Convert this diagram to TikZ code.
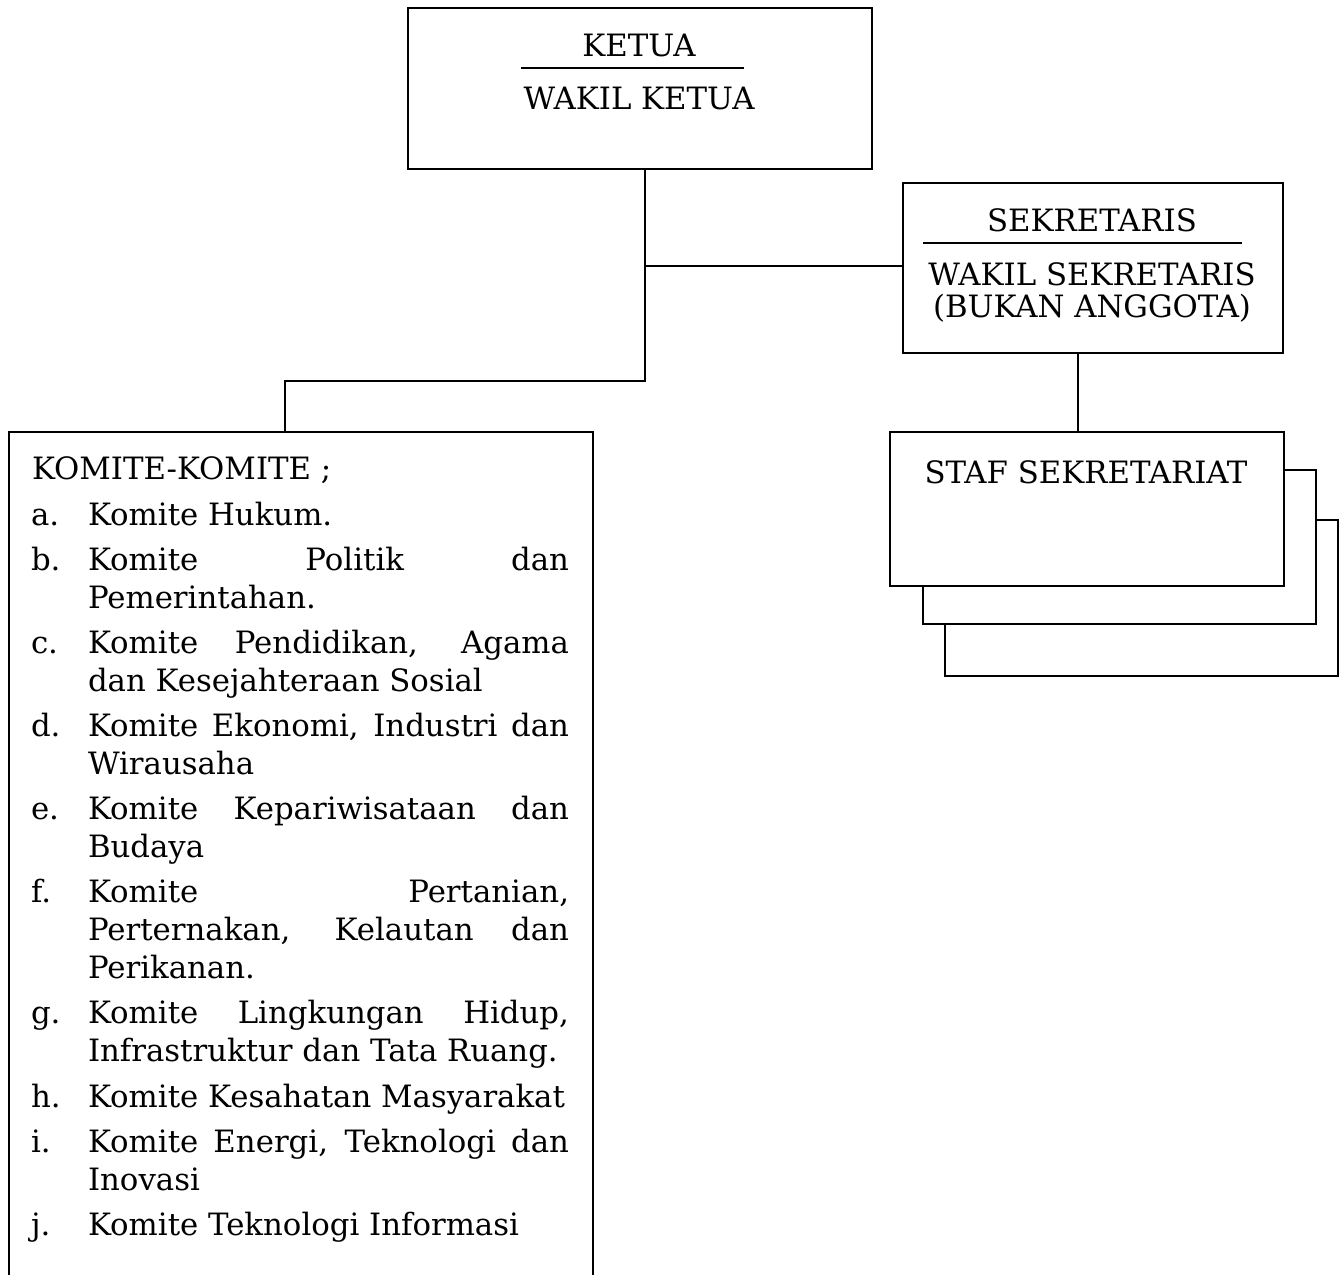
\documentclass[tikz,border=0pt]{standalone}
\usepackage{fontspec}
\setmainfont{DejaVu Serif}
\newsavebox\measbox
\AtBeginDocument{%
  \sbox\measbox{\normalfont\fontsize{10pt}{12pt}\selectfont Komite Kesahatan Masyarakat}%
  \pgfmathsetmacro\fszloc{10*477/\the\wd\measbox}%
  \xdef\fsz{\fszloc}}
\begin{document}
\begin{tikzpicture}[x=1pt,y=-1pt,line width=2pt,
  box/.style={draw,line width=2pt,fill=white,inner sep=0pt,anchor=north west},
  ctxt/.style={inner sep=0pt,anchor=base,font=\mainfs},
  ltxt/.style={inner sep=0pt,anchor=base west,font=\mainfs},
  rule/.style={line width=1.6pt}]
\def\mainfs{\fontsize{\fsz pt}{38pt}\selectfont}%
\def\jline#1{\makebox[481pt][s]{#1}}%
\useasboundingbox (0,0) rectangle (1343,1274);
% ---------- boxes ----------
\node[box,minimum width=464pt,minimum height=161pt] (ketua) at (407,7) {};
\node[box,minimum width=380pt,minimum height=170pt] (sek) at (902,182) {};
\node[box,minimum width=393pt,minimum height=156pt] (staf3) at (944,519) {};
\node[box,minimum width=393pt,minimum height=154pt] (staf2) at (922,469) {};
\node[box,minimum width=394pt,minimum height=154pt] (staf) at (889,431) {};
\node[box,fill=none,minimum width=584pt,minimum height=880pt] (komite) at (8,431) {};
% ---------- box texts ----------
\node[ctxt] (ketuaA) at (639,56) {KETUA};
\draw[rule] (521,68) -- (744,68);
\node[ctxt] (ketuaB) at (639,109) {WAKIL KETUA};
\node[ctxt] (sekA) at (1092,231) {SEKRETARIS};
\draw[rule] (923,243) -- (1242,243);
\node[ctxt] (sekB) at (1092,285) {WAKIL SEKRETARIS};
\node[ctxt] (sekC) at (1092,317) {(BUKAN ANGGOTA)};
\node[ctxt] (stafT) at (1086,483) {STAF SEKRETARIAT};
% ---------- komite list ----------
\node[ltxt] (kh) at (31,479) {KOMITE-KOMITE ;};
\node[ltxt] (la) at (30,525) {a.};
\node[ltxt] (ia) at (87,525) {Komite Hukum.};
\node[ltxt] (lb) at (30,570) {b.};
\node[ltxt] (ib) at (87,570) {\jline{Komite Politik dan}};
\node[ltxt] (ib2) at (87,608) {Pemerintahan.};
\node[ltxt] (lc) at (30,653) {c.};
\node[ltxt] (ic) at (87,653) {\jline{Komite Pendidikan, Agama}};
\node[ltxt] (ic2) at (87,691) {dan Kesejahteraan Sosial};
\node[ltxt] (ld) at (30,736) {d.};
\node[ltxt] (id) at (87,736) {\jline{Komite Ekonomi, Industri dan}};
\node[ltxt] (id2) at (87,774) {Wirausaha};
\node[ltxt] (le) at (30,819) {e.};
\node[ltxt] (ie) at (87,819) {\jline{Komite Kepariwisataan dan}};
\node[ltxt] (ie2) at (87,857) {Budaya};
\node[ltxt] (lf) at (30,902) {f.};
\node[ltxt] (if) at (87,902) {\jline{Komite Pertanian,}};
\node[ltxt] (if2) at (87,940) {\jline{Perternakan, Kelautan dan}};
\node[ltxt] (if3) at (87,978) {Perikanan.};
\node[ltxt] (lg) at (30,1023) {g.};
\node[ltxt] (ig) at (87,1023) {\jline{Komite Lingkungan Hidup,}};
\node[ltxt] (ig2) at (87,1061) {Infrastruktur dan Tata Ruang.};
\node[ltxt] (lh) at (30,1107) {h.};
\node[ltxt] (ih) at (87,1107) {Komite Kesahatan Masyarakat};
\node[ltxt] (li) at (30,1152) {i.};
\node[ltxt] (ii) at (87,1152) {\jline{Komite Energi, Teknologi dan}};
\node[ltxt] (ii2) at (87,1190) {Inovasi};
\node[ltxt] (lj) at (30,1235) {j.};
\node[ltxt] (ij) at (87,1235) {Komite Teknologi Informasi};
% ---------- connectors ----------
\coordinate (jA) at (645,266);
\coordinate (jB) at (645,381);
\coordinate (jC) at (285,381);
\coordinate (jS) at (1078,0);
\draw (ketua.south -| jB) -- (jB) -- (jC) -- (komite.north -| jC);
\draw (jA) -- (sek.west |- jA);
\draw (sek.south -| jS) -- (staf.north -| jS);
\end{tikzpicture}
\end{document}
